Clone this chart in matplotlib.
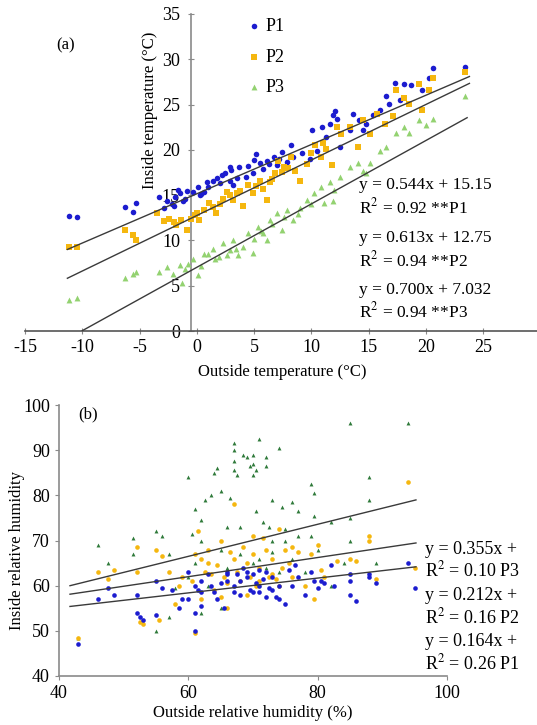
import matplotlib
matplotlib.use("Agg")
import matplotlib.pyplot as plt
import numpy as np

plt.rcParams["font.family"] = ["Liberation Serif", "DejaVu Serif"]
plt.rcParams["mathtext.fontset"] = "stix"
plt.rcParams["axes.unicode_minus"] = False

# ---- panel (a): outside vs inside temperature ----
t_p1_x = [-11.2, -10.5, -6.3, -5.6, -5.3, -2.9, -2.6, -2.2, -1.9, -1.5, -1.2, -0.9, -0.3, 0.1, 0.6,
          0.9, 1.4, 2.0, 2.2, 2.9, 3.2, 2.9, 3.7, 4.3, 4.9, 5.5, 5.2, 6.1, 5.8, 6.7, 7.0, 7.4, 7.9,
          8.2, 8.4, 9.2, 9.9, 10.1, 10.5, 10.9, 11.3, 11.6, 11.9, 12.1, 12.2, 12.5, 13.4, 13.6, 14.2,
          14.5, 14.8, 15.4, 16.0, 16.5, 16.8, 17.3, 17.7, 18.1, 18.7, 19.7, 20.3, 20.6, 23.4,
          -2.0, -1.0, 0.3, 1.0, 1.8, 2.5, 3.5, 4.5, 5.0, 6.3, 7.2, -3.3, -1.6, 0.4, 3.0]
t_p1_y = [12.7, 12.6, 13.7, 13.1, 14.1, 13.6, 14.4, 14.0, 14.8, 15.2, 14.3, 15.5, 15.4, 15.9, 15.4,
          16.5, 16.6, 16.3, 17.2, 16.6, 16.1, 18.1, 18.1, 17.0, 17.4, 18.6, 19.5, 18.8, 17.9, 19.2,
          18.3, 19.8, 18.7, 20.5, 19.2, 19.6, 19.0, 22.2, 19.9, 22.5, 21.4, 22.9, 23.8, 24.3, 23.4,
          20.3, 22.2, 24.0, 23.3, 22.2, 22.9, 23.8, 24.4, 25.9, 25.1, 27.4, 25.5, 27.3, 27.2, 26.6,
          27.9, 29.0, 29.2,
          13.8, 14.6, 15.0, 15.9, 16.9, 17.5, 16.9, 18.2, 18.9, 18.4, 19.0, 14.8, 15.6, 15.1, 17.8]

t_p2_x = [-11.2, -10.5, -6.3, -5.6, -5.3, -3.5, -2.9, -2.4, -1.8, -1.4, -0.9, -0.5, 0.0, 0.2, 0.6,
          1.1, 1.7, 2.3, 2.6, 3.2, 3.5, 4.0, 4.5, 4.9, 5.5, 5.8, 6.1, 6.4, 6.8, 7.1, 7.6, 8.2, 8.6,
          9.0, 9.6, 10.3, 10.8, 11.3, 11.8, 12.2, 12.6, 13.4, 14.1, 14.5, 15.1, 15.7, 16.4, 17.1,
          17.4, 18.1, 18.5, 19.4, 19.7, 20.3, 20.6, 23.4,
          -2.0, -0.2, 1.4, 2.0, 2.9, 3.8, 5.2, 6.6, 7.4, 8.0, 10.0, 11.0]
t_p2_y = [9.3, 9.3, 11.1, 10.6, 10.0, 13.0, 12.1, 12.4, 11.7, 12.3, 11.2, 12.4, 13.0, 12.3, 13.4,
          14.1, 13.0, 14.6, 15.4, 14.5, 15.2, 13.8, 16.1, 15.2, 16.6, 15.7, 14.5, 16.4, 17.4, 18.8,
          18.1, 19.2, 17.7, 16.6, 18.4, 20.5, 19.2, 20.1, 18.3, 22.5, 21.8, 22.5, 20.3, 23.3, 21.8,
          24.0, 22.9, 23.7, 26.6, 25.7, 25.1, 27.3, 24.4, 26.6, 27.9, 28.6,
          12.0, 12.8, 13.7, 14.0, 15.0, 15.5, 16.0, 16.8, 17.6, 18.0, 19.6, 20.8]

t_p3_x = [-11.2, -10.5, -6.3, -5.6, -5.3, -3.3, -2.6, -2.1, -1.5, -1.3, -0.8, -0.3, 0.1, 0.6, 1.0,
          1.4, 1.9, 2.3, 2.9, 3.2, 3.6, 4.0, 4.5, 4.9, 5.3, 5.8, 6.1, 6.4, 7.0, 7.4, 7.9, 8.4, 9.0,
          9.6, 10.2, 10.8, 11.1, 11.6, 11.9, 12.5, 13.4, 14.1, 14.5, 15.1, 16.0, 16.5, 17.4, 18.1,
          18.5, 19.4, 20.0, 20.6, 23.4,
          -1.0, 0.4, 1.6, 2.6, 3.4, 5.0, 5.6, 6.6, 7.6, 8.8, 10.0, 12.0, 14.8]
t_p3_y = [3.4, 3.6, 5.8, 6.3, 6.5, 6.5, 7.1, 6.3, 7.3, 5.3, 7.4, 8.0, 6.2, 8.5, 8.5, 9.1, 8.2, 9.7,
          8.9, 10.0, 8.4, 9.3, 10.8, 8.6, 11.5, 10.8, 10.0, 12.3, 13.0, 11.2, 13.4, 12.3, 13.6, 14.5,
          15.2, 15.9, 14.1, 16.5, 14.3, 17.0, 18.1, 18.5, 17.7, 18.5, 19.9, 20.3, 21.9, 22.5, 21.9,
          23.3, 22.7, 23.4, 25.9,
          6.8, 7.2, 8.0, 8.4, 9.0, 10.2, 11.0, 11.8, 12.6, 12.9, 14.0, 15.6, 17.4]

t_fits = [(0.544, 15.15, -11.3, 23.8, "y = 0.544x + 15.15", "R$^{2}$ = 0.92 **P1"),
          (0.613, 12.75, -11.3, 23.8, "y = 0.613x + 12.75", "R$^{2}$ = 0.94 **P2"),
          (0.700, 7.032, -10.0, 23.6, "y = 0.700x + 7.032", "R$^{2}$ = 0.94 **P3")]
t_xticks = [-15, -10, -5, 0, 5, 10, 15, 20, 25]
t_yticks = [0, 5, 10, 15, 20, 25, 30, 35]

# ---- panel (b): outside vs inside relative humidity ----
h_p1 = [(43, 47), (46, 57), (47.5, 59.5), (48.5, 58), (52, 58), (52, 54), (52.5, 53), (53, 52.5),
        (55, 61), (55, 53.5), (56, 59.5), (57.5, 59), (58.5, 55), (59, 57), (60, 63), (60, 57),
        (61, 60), (61, 50), (61, 54), (61.5, 59), (62, 58.5), (62, 55.5), (63, 62.5), (63.5, 60),
        (64, 58.5), (64.5, 57), (65, 60.5), (65.5, 55), (66, 63), (66, 61), (67, 58.5), (67, 60),
        (67.5, 62.5), (68, 58), (68.5, 64), (69, 62), (69.5, 59), (70, 58.5), (70, 62.5),
        (70.5, 60.5), (71, 63.5), (71, 58.5), (71.5, 61.5), (72, 63), (72, 57.5), (72.5, 59.5),
        (73, 62), (73.5, 57.5), (74, 60), (74, 57), (75, 56), (75.5, 63.5), (76, 60), (76.5, 64.5),
        (77, 62), (78, 58), (79, 63), (79.5, 61), (80, 59.5), (80.5, 61), (81, 60.5), (82, 64.5),
        (82.5, 60), (85, 58), (85, 61), (85, 62.5), (86, 56.5), (88, 62.5), (88, 62), (89, 60.5),
        (94, 65), (95, 59.5), (66, 62.5), (68, 61), (69, 63), (71, 60), (73, 59), (62, 61)]
h_p2 = [(43, 48.5), (46, 63), (47.5, 61.5), (48.5, 63.5), (52, 63), (52, 68.5), (52.5, 52),
        (53, 51.5), (55, 68), (55.5, 52.5), (56, 66.5), (57, 63), (58, 56), (58.5, 60), (59, 62),
        (60.5, 61), (61, 67), (61, 49.5), (61.5, 72), (62, 66), (62.5, 63), (63, 68), (63.5, 62.5),
        (64, 59), (64.5, 64.5), (65, 57.5), (65.5, 62), (66, 60.5), (66.5, 67.5), (67, 78), (67, 66),
        (67.5, 63), (68, 61), (68.5, 68.5), (69, 65), (69.5, 62), (70, 71), (70, 67), (70.5, 60),
        (71, 64), (71.5, 70.5), (72, 68), (72.5, 62), (73, 66), (73.5, 61.5), (74, 72.5),
        (74.5, 64), (75, 68), (75.5, 65), (76, 68.5), (77, 67.5), (78, 60), (79, 67), (79.5, 57),
        (80, 69), (80.5, 63.5), (81, 62), (83, 65.5), (85, 66), (86, 65.5), (88, 71), (88, 70),
        (89, 61.5), (94, 83), (95, 64), (63, 65), (65, 70), (69, 58), (71, 61), (73, 62.5),
        (74, 60), (76, 62), (62, 57), (66, 55)]
h_p3 = [(46, 69), (47.5, 65), (51.5, 70.5), (51.5, 67), (55, 72), (56, 71), (57, 67), (58, 59.5),
        (57, 53), (60, 84), (60.5, 71.5), (61, 77), (61, 65), (62, 74.5), (62, 70), (62, 54),
        (62.5, 79), (63.5, 80), (64, 85), (64.5, 86), (65, 81), (66, 73), (66.5, 79.5), (67, 91.5),
        (67, 90), (67, 87.5), (67, 85.5), (67.5, 84.5), (68, 73), (68.5, 89), (69, 88.5),
        (69.5, 86.5), (70, 84.5), (70, 87), (70.5, 85.5), (70, 89), (70.5, 76.5), (71, 92.5),
        (71.5, 74), (72, 88.5), (72, 86.5), (72.5, 73), (73, 79), (73, 70), (74, 90.5), (74.5, 77.5),
        (75, 70), (76, 78.5), (77, 76.5), (77, 71), (79, 82.5), (79.5, 80.5), (79.5, 75.5), (79, 71),
        (80, 68), (82, 74), (85, 96), (85, 75), (85, 70), (88, 84), (88, 79), (89, 65), (94, 96),
        (43, 48.5), (55, 50), (60, 62), (63, 60), (65, 55), (66, 64), (70, 65), (72, 64), (74, 63),
        (76, 66), (78, 63), (82, 60), (84, 65), (65, 68), (68, 67), (71, 66), (73, 67.5), (75, 72.5)]

# intercepts are cut off at the page edge in the source, so only the visible part is written
h_fits = [(0.355, 45.19, 41.7, 95.2, "y = 0.355x +", "R$^{2}$ = 0.10 P3"),
          (0.212, 49.27, 41.7, 95.2, "y = 0.212x +", "R$^{2}$ = 0.16 P2"),
          (0.164, 48.56, 41.7, 95.2, "y = 0.164x +", "R$^{2}$ = 0.26 P1")]
h_ticks_x = [40, 60, 80, 100]
h_ticks_y = [40, 50, 60, 70, 80, 90, 100]

C_P1 = "#1c1ccf"
C_P2 = "#f5b70f"
C_P3 = "#93d270"
C_P3_DARK = "#2f7a3a"
AX_GRAY = "#8a8a8a"

W, H = 537, 725
fig = plt.figure(figsize=(W / 100, H / 100), dpi=100)


def px_axes(left, top, right, bottom):
    return fig.add_axes([left / W, 1 - bottom / H, (right - left) / W, (bottom - top) / H])


# panel (a)
ax = px_axes(25, 14, 537, 331)
ax.set_xlim(-15, 29.7)
ax.set_ylim(0, 35)
ax.scatter(t_p1_x, t_p1_y, s=16, marker="o", color=C_P1, lw=0, label="P1", zorder=3)
ax.scatter(t_p2_x, t_p2_y, s=15, marker="s", color=C_P2, lw=0, label="P2", zorder=3)
ax.scatter(t_p3_x, t_p3_y, s=18, marker="^", color=C_P3, lw=0, label="P3", zorder=3)
for k, b, x0, x1, _, _ in t_fits:
    xs = np.array([x0, x1])
    ax.plot(xs, k * xs + b, color="#3a3a3a", lw=1.0, zorder=4)
for sp in ("top", "right"):
    ax.spines[sp].set_visible(False)
ax.spines["left"].set_position(("data", -0.5))
for sp in ("left", "bottom"):
    ax.spines[sp].set_color(AX_GRAY)
    ax.spines[sp].set_linewidth(1.2)
ax.spines["bottom"].set_color("#555555")
ax.set_xticks(t_xticks)
ax.set_yticks(t_yticks)
ax.tick_params(axis="both", direction="inout", length=4, color=AX_GRAY, labelsize=13)
ax.tick_params(axis="y", pad=6)
ax.text(-11.5, 31.5, "(a)", fontsize=12, ha="center", va="center")
fig.text(150 / W, 1 - 110 / H, "Inside temperature (°C)", rotation=90, fontsize=12,
         ha="center", va="center")
fig.text(282 / W, 1 - 372 / H, "Outside temperature (°C)", fontsize=12, ha="center", va="center")
ax.legend(loc="upper left", bbox_to_anchor=(249 / W, 1 - 18 / H),
          bbox_transform=fig.transFigure, frameon=False, fontsize=13,
          handlelength=0.6, handletextpad=0.3, labelspacing=0.75, borderpad=0,
          borderaxespad=0, markerscale=1.0)
eq_y = [185, 207, 238, 260, 290, 311]
for i, (_, _, _, _, eq, r2) in enumerate(t_fits):
    fig.text(359 / W, 1 - eq_y[2 * i] / H, eq, fontsize=12.5, va="center")
    fig.text(359 / W, 1 - eq_y[2 * i + 1] / H, r2, fontsize=12.5, va="center")

# panel (b)
bx = px_axes(59, 405, 447, 676)
bx.set_xlim(40, 100)
bx.set_ylim(40, 100)
for pts, col, mk, sz in ((h_p3, C_P3_DARK, "^", 8), (h_p2, C_P2, "o", 11), (h_p1, C_P1, "o", 11)):
    xs, ys = zip(*pts)
    bx.scatter(xs, ys, s=sz, marker=mk, color=col, lw=0, zorder=3)
for k, b, x0, x1, _, _ in h_fits:
    xs = np.array([x0, x1])
    bx.plot(xs, k * xs + b, color="#3a3a3a", lw=1.0, zorder=4)
for sp in ("top", "right"):
    bx.spines[sp].set_visible(False)
for sp in ("left", "bottom"):
    bx.spines[sp].set_color(AX_GRAY)
    bx.spines[sp].set_linewidth(1.2)
bx.set_xticks(h_ticks_x)
bx.set_yticks(h_ticks_y)
bx.tick_params(axis="both", direction="out", length=3, color=AX_GRAY, labelsize=13)
bx.text(44.5, 98, "(b)", fontsize=12, ha="center", va="center")
bx.set_xlabel("Outside relative humidity (%)", fontsize=12, labelpad=2)
fig.text(17 / W, 1 - 550 / H, "Inside relative humidity", rotation=90, fontsize=12,
         ha="center", va="center")
eq_y = [549, 570, 595, 617, 642, 663]
for i, (_, _, _, _, eq, r2) in enumerate(h_fits):
    fig.text(425 / W, 1 - eq_y[2 * i] / H, eq, fontsize=13, va="center")
    fig.text(425 / W, 1 - eq_y[2 * i + 1] / H, r2, fontsize=13, va="center")

fig.savefig("out.png", dpi=100)
